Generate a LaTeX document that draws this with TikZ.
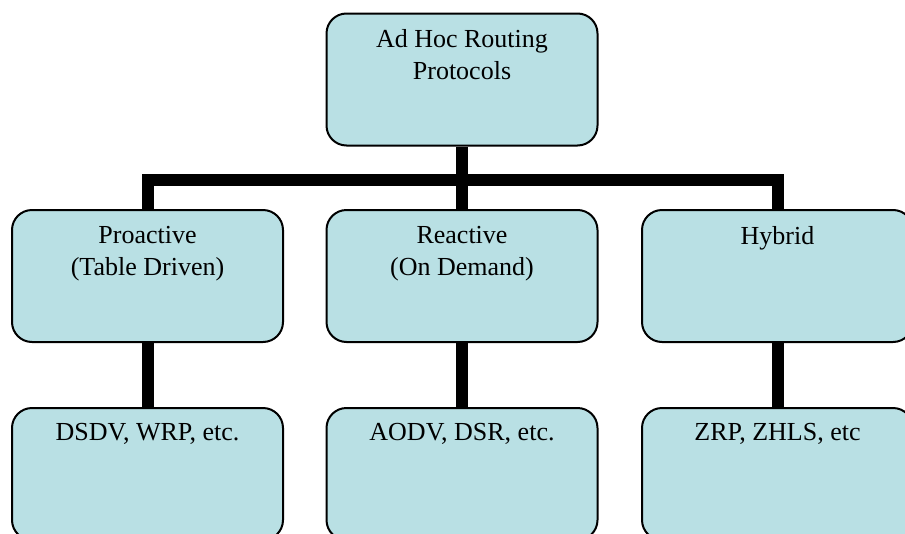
\documentclass[tikz,border=0pt]{standalone}
\usepackage{fontspec}
\setmainfont{Liberation Serif}
\usetikzlibrary{backgrounds}
\definecolor{boxfill}{RGB}{185,224,228}
\tikzset{
  box/.style={draw=black, line width=2pt, fill=boxfill, rounded corners=20pt,
    minimum width=271pt, minimum height=132pt, inner sep=0pt},
  lbl/.style={anchor=north, inner sep=0pt, align=center,
    font=\fontsize{26}{32}\selectfont},
  conn/.style={line width=12pt, black, line join=miter}
}
\begin{document}
\begin{tikzpicture}[x=1pt,y=-1pt]
\useasboundingbox (0,0) rectangle (905,533);
\clip (0,0) rectangle (905,533);
% boxes
\node[box] (T) at (462,79.5) {};
\node[box] (L) at (147.5,276) {};
\node[box] (M) at (462,276) {};
\node[box] (R) at (777.5,276) {};
\node[box] (LB) at (147.5,474) {};
\node[box] (MB) at (462,474) {};
\node[box] (RB) at (777.5,474) {};
% labels
\node[lbl] (tT) at ([yshift=-17pt]T.north) {Ad Hoc Routing\\Protocols};
\node[lbl] (tL) at ([yshift=-17pt]L.north) {Proactive\\(Table Driven)};
\node[lbl] (tM) at ([yshift=-17pt]M.north) {Reactive\\(On Demand)};
\node[lbl] (tR) at ([yshift=-17pt]R.north) {Hybrid};
\node[lbl] (tLB) at ([yshift=-16pt]LB.north) {DSDV, WRP, etc.};
\node[lbl] (tMB) at ([yshift=-16pt]MB.north) {AODV, DSR, etc.};
\node[lbl] (tRB) at ([yshift=-16pt]RB.north) {ZRP, ZHLS, etc};
\coordinate (bar) at (462,180);
% connectors
\begin{scope}[on background layer]
\draw[conn] (T.south) -- (bar);
\draw[conn] (L.north) |- (bar) -| (R.north);
\draw[conn] (bar) -- (M.north);
\draw[conn] (L.south) -- (LB.north);
\draw[conn] (M.south) -- (MB.north);
\draw[conn] (R.south) -- (RB.north);
\end{scope}
\end{tikzpicture}
\end{document}
